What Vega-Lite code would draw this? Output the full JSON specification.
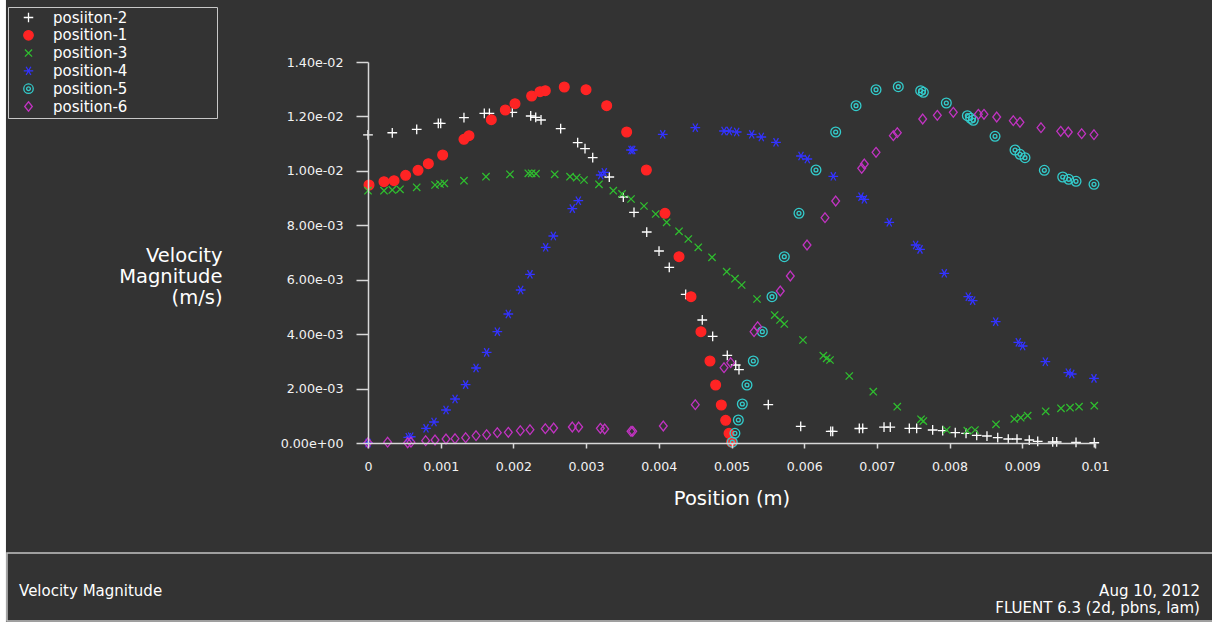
{
  "$schema": "https://vega.github.io/schema/vega-lite/v6.json",
  "width": 727,
  "height": 381,
  "autosize": {"type": "none"},
  "padding": {"left": 368, "top": 62, "right": 117, "bottom": 181},
  "background": "#ffffff",
  "config": {"font": "DejaVu Sans", "view": {"stroke": null}},
  "layer": [
    {
      "data": {"values": [{}]},
      "mark": {"type": "rect", "fill": "#333333"},
      "encoding": {
        "x": {"datum": -0.00498, "type": "quantitative", "scale": {"domain": [0, 0.01], "nice": false, "zero": false}},
        "x2": {"datum": 0.0117},
        "y": {"datum": 0.0165, "type": "quantitative", "scale": {"domain": [0, 0.014], "nice": false, "zero": false}},
        "y2": {"datum": -0.006577}
      }
    },
    {
      "data": {"values": [
        {"s":"posiiton-2","x":0,"y":0.01132},{"s":"posiiton-2","x":0.000334,"y":0.0114},{"s":"posiiton-2","x":0.00067,"y":0.011527},{"s":"posiiton-2","x":0.000967,"y":0.011747},{"s":"posiiton-2","x":0.001,"y":0.011747},{"s":"posiiton-2","x":0.00132,"y":0.011953},{"s":"posiiton-2","x":0.0016,"y":0.012115},{"s":"posiiton-2","x":0.00167,"y":0.012115},{"s":"posiiton-2","x":0.001985,"y":0.012152},{"s":"posiiton-2","x":0.002238,"y":0.012016},{"s":"posiiton-2","x":0.002307,"y":0.011968},{"s":"posiiton-2","x":0.00238,"y":0.011869},{"s":"posiiton-2","x":0.00265,"y":0.011549},{"s":"posiiton-2","x":0.002884,"y":0.011034},{"s":"posiiton-2","x":0.002985,"y":0.010814},{"s":"posiiton-2","x":0.003091,"y":0.010483},{"s":"posiiton-2","x":0.003319,"y":0.009774},{"s":"posiiton-2","x":0.003512,"y":0.009039},{"s":"posiiton-2","x":0.003659,"y":0.008477},{"s":"posiiton-2","x":0.003834,"y":0.007753},{"s":"posiiton-2","x":0.004003,"y":0.007055},{"s":"posiiton-2","x":0.004144,"y":0.006456},{"s":"posiiton-2","x":0.00437,"y":0.005464},{"s":"posiiton-2","x":0.004598,"y":0.00452},{"s":"posiiton-2","x":0.004741,"y":0.003921},{"s":"posiiton-2","x":0.004942,"y":0.003223},{"s":"posiiton-2","x":0.005058,"y":0.002866},{"s":"posiiton-2","x":0.005103,"y":0.002693},{"s":"posiiton-2","x":0.005506,"y":0.001407},{"s":"posiiton-2","x":0.005952,"y":0.000614},{"s":"posiiton-2","x":0.006365,"y":0.00043},{"s":"posiiton-2","x":0.006392,"y":0.00043},{"s":"posiiton-2","x":0.006758,"y":0.000533},{"s":"posiiton-2","x":0.006805,"y":0.00054},{"s":"posiiton-2","x":0.007098,"y":0.000581},{"s":"posiiton-2","x":0.007184,"y":0.000581},{"s":"posiiton-2","x":0.007446,"y":0.00054},{"s":"posiiton-2","x":0.007547,"y":0.00054},{"s":"posiiton-2","x":0.007767,"y":0.000478},{"s":"posiiton-2","x":0.007905,"y":0.000452},{"s":"posiiton-2","x":0.008078,"y":0.000378},{"s":"posiiton-2","x":0.008226,"y":0.000356},{"s":"posiiton-2","x":0.008373,"y":0.000283},{"s":"posiiton-2","x":0.008514,"y":0.000257},{"s":"posiiton-2","x":0.008662,"y":0.000195},{"s":"posiiton-2","x":0.008807,"y":0.000147},{"s":"posiiton-2","x":0.008927,"y":0.000147},{"s":"posiiton-2","x":0.009096,"y":0.00011},{"s":"posiiton-2","x":0.009212,"y":0.000062},{"s":"posiiton-2","x":0.009418,"y":0.000037},{"s":"posiiton-2","x":0.009473,"y":0.000037},{"s":"posiiton-2","x":0.009739,"y":0.000026},{"s":"posiiton-2","x":0.00999,"y":0.00001},
        {"s":"position-1","x":0.000014,"y":0.00948},{"s":"position-1","x":0.00022,"y":0.009602},{"s":"position-1","x":0.000358,"y":0.009638},{"s":"position-1","x":0.000518,"y":0.009837},{"s":"position-1","x":0.000688,"y":0.01002},{"s":"position-1","x":0.00083,"y":0.010263},{"s":"position-1","x":0.001027,"y":0.010583},{"s":"position-1","x":0.00132,"y":0.01116},{"s":"position-1","x":0.001389,"y":0.011292},{"s":"position-1","x":0.001696,"y":0.01188},{"s":"position-1","x":0.001889,"y":0.012236},{"s":"position-1","x":0.002022,"y":0.012468},{"s":"position-1","x":0.002251,"y":0.01275},{"s":"position-1","x":0.002366,"y":0.012909},{"s":"position-1","x":0.002439,"y":0.012946},{"s":"position-1","x":0.0027,"y":0.013081},{"s":"position-1","x":0.002999,"y":0.012982},{"s":"position-1","x":0.003283,"y":0.012394},{"s":"position-1","x":0.003558,"y":0.011428},{"s":"position-1","x":0.003829,"y":0.010031},{"s":"position-1","x":0.004085,"y":0.00844},{"s":"position-1","x":0.004278,"y":0.006846},{"s":"position-1","x":0.004443,"y":0.005376},{"s":"position-1","x":0.00458,"y":0.00409},{"s":"position-1","x":0.004704,"y":0.003013},{"s":"position-1","x":0.004782,"y":0.002131},{"s":"position-1","x":0.00486,"y":0.001396},{"s":"position-1","x":0.00492,"y":0.000834},{"s":"position-1","x":0.004966,"y":0.000356},{"s":"position-1","x":0.005,"y":0.00003},
        {"s":"position-3","x":0,"y":0.00927},{"s":"position-3","x":0.00022,"y":0.00927},{"s":"position-3","x":0.000334,"y":0.009297},{"s":"position-3","x":0.00044,"y":0.009322},{"s":"position-3","x":0.00067,"y":0.009396},{"s":"position-3","x":0.000922,"y":0.00948},{"s":"position-3","x":0.00099,"y":0.009517},{"s":"position-3","x":0.00105,"y":0.009543},{"s":"position-3","x":0.00132,"y":0.009638},{"s":"position-3","x":0.001623,"y":0.009785},{"s":"position-3","x":0.001953,"y":0.009873},{"s":"position-3","x":0.002205,"y":0.00991},{"s":"position-3","x":0.002251,"y":0.00991},{"s":"position-3","x":0.002311,"y":0.009896},{"s":"position-3","x":0.002568,"y":0.009873},{"s":"position-3","x":0.002779,"y":0.009785},{"s":"position-3","x":0.00287,"y":0.009749},{"s":"position-3","x":0.002971,"y":0.009664},{"s":"position-3","x":0.003177,"y":0.009506},{"s":"position-3","x":0.003374,"y":0.00927},{"s":"position-3","x":0.003494,"y":0.00915},{"s":"position-3","x":0.003618,"y":0.008966},{"s":"position-3","x":0.003796,"y":0.008709},{"s":"position-3","x":0.003957,"y":0.008415},{"s":"position-3","x":0.004108,"y":0.00811},{"s":"position-3","x":0.004278,"y":0.007779},{"s":"position-3","x":0.004406,"y":0.007496},{"s":"position-3","x":0.004543,"y":0.007191},{"s":"position-3","x":0.004732,"y":0.006824},{"s":"position-3","x":0.004934,"y":0.006295},{"s":"position-3","x":0.005048,"y":0.006037},{"s":"position-3","x":0.00514,"y":0.005806},{"s":"position-3","x":0.005351,"y":0.005291},{"s":"position-3","x":0.005594,"y":0.004703},{"s":"position-3","x":0.005667,"y":0.00452},{"s":"position-3","x":0.005726,"y":0.004373},{"s":"position-3","x":0.005983,"y":0.003785},{"s":"position-3","x":0.006263,"y":0.003208},{"s":"position-3","x":0.006309,"y":0.003112},{"s":"position-3","x":0.006355,"y":0.00305},{"s":"position-3","x":0.00662,"y":0.002462},{"s":"position-3","x":0.00695,"y":0.001885},{"s":"position-3","x":0.00728,"y":0.001334},{"s":"position-3","x":0.007607,"y":0.000871},{"s":"position-3","x":0.007639,"y":0.000808},{"s":"position-3","x":0.00796,"y":0.000478},{"s":"position-3","x":0.008243,"y":0.000452},{"s":"position-3","x":0.008349,"y":0.000478},{"s":"position-3","x":0.008638,"y":0.000687},{"s":"position-3","x":0.00889,"y":0.000882},{"s":"position-3","x":0.008978,"y":0.00093},{"s":"position-3","x":0.009074,"y":0.001003},{"s":"position-3","x":0.009322,"y":0.001165},{"s":"position-3","x":0.009532,"y":0.001275},{"s":"position-3","x":0.009656,"y":0.001297},{"s":"position-3","x":0.00978,"y":0.001334},{"s":"position-3","x":0.00999,"y":0.001371},
        {"s":"position-4","x":0,"y":0},{"s":"position-4","x":0.000554,"y":0.00021},{"s":"position-4","x":0.000587,"y":0.00023},{"s":"position-4","x":0.000798,"y":0.00054},{"s":"position-4","x":0.000908,"y":0.000772},{"s":"position-4","x":0.001073,"y":0.001213},{"s":"position-4","x":0.001197,"y":0.001617},{"s":"position-4","x":0.001343,"y":0.002143},{"s":"position-4","x":0.001486,"y":0.002756},{"s":"position-4","x":0.001632,"y":0.003332},{"s":"position-4","x":0.001779,"y":0.00409},{"s":"position-4","x":0.00193,"y":0.00474},{"s":"position-4","x":0.0021,"y":0.005622},{"s":"position-4","x":0.002228,"y":0.006199},{"s":"position-4","x":0.002444,"y":0.007191},{"s":"position-4","x":0.002549,"y":0.007606},{"s":"position-4","x":0.00281,"y":0.00861},{"s":"position-4","x":0.002893,"y":0.008903},{"s":"position-4","x":0.003201,"y":0.009848},{"s":"position-4","x":0.00325,"y":0.009947},{"s":"position-4","x":0.003618,"y":0.010766},{"s":"position-4","x":0.003641,"y":0.010766},{"s":"position-4","x":0.004054,"y":0.011343},{"s":"position-4","x":0.004502,"y":0.011586},{"s":"position-4","x":0.004897,"y":0.011464},{"s":"position-4","x":0.00497,"y":0.011464},{"s":"position-4","x":0.005071,"y":0.011428},{"s":"position-4","x":0.005278,"y":0.011343},{"s":"position-4","x":0.00541,"y":0.011244},{"s":"position-4","x":0.005612,"y":0.011049},{"s":"position-4","x":0.005956,"y":0.010546},{"s":"position-4","x":0.006043,"y":0.010436},{"s":"position-4","x":0.0064,"y":0.0098},{"s":"position-4","x":0.006781,"y":0.00905},{"s":"position-4","x":0.006827,"y":0.008955},{"s":"position-4","x":0.00717,"y":0.00811},{"s":"position-4","x":0.007533,"y":0.007276},{"s":"position-4","x":0.007593,"y":0.007117},{"s":"position-4","x":0.007927,"y":0.006236},{"s":"position-4","x":0.008257,"y":0.005376},{"s":"position-4","x":0.008317,"y":0.005229},{"s":"position-4","x":0.008634,"y":0.004457},{"s":"position-4","x":0.008945,"y":0.0037},{"s":"position-4","x":0.009005,"y":0.003564},{"s":"position-4","x":0.009317,"y":0.002987},{"s":"position-4","x":0.009633,"y":0.002583},{"s":"position-4","x":0.00968,"y":0.002535},{"s":"position-4","x":0.009986,"y":0.002377},
        {"s":"position-5","x":0.005011,"y":0.00003},{"s":"position-5","x":0.005047,"y":0.000356},{"s":"position-5","x":0.005094,"y":0.000845},{"s":"position-5","x":0.005149,"y":0.001433},{"s":"position-5","x":0.005213,"y":0.002131},{"s":"position-5","x":0.0053,"y":0.003013},{"s":"position-5","x":0.005424,"y":0.00409},{"s":"position-5","x":0.005557,"y":0.005376},{"s":"position-5","x":0.005726,"y":0.006846},{"s":"position-5","x":0.005928,"y":0.00844},{"s":"position-5","x":0.006162,"y":0.010031},{"s":"position-5","x":0.006433,"y":0.011428},{"s":"position-5","x":0.006713,"y":0.012394},{"s":"position-5","x":0.006988,"y":0.012982},{"s":"position-5","x":0.007294,"y":0.013092},{"s":"position-5","x":0.007602,"y":0.012946},{"s":"position-5","x":0.007639,"y":0.012886},{"s":"position-5","x":0.007955,"y":0.012493},{"s":"position-5","x":0.008244,"y":0.012027},{"s":"position-5","x":0.00829,"y":0.011931},{"s":"position-5","x":0.008326,"y":0.011857},{"s":"position-5","x":0.008625,"y":0.01127},{"s":"position-5","x":0.0089,"y":0.010766},{"s":"position-5","x":0.008968,"y":0.010608},{"s":"position-5","x":0.009037,"y":0.010483},{"s":"position-5","x":0.009303,"y":0.01002},{"s":"position-5","x":0.009556,"y":0.009774},{"s":"position-5","x":0.009638,"y":0.00969},{"s":"position-5","x":0.009739,"y":0.009616},{"s":"position-5","x":0.009986,"y":0.009506},
        {"s":"position-6","x":0,"y":0.00001},{"s":"position-6","x":0.00027,"y":0.00003},{"s":"position-6","x":0.000546,"y":0.00001},{"s":"position-6","x":0.000591,"y":0.00003},{"s":"position-6","x":0.000793,"y":0.000085},{"s":"position-6","x":0.000922,"y":0.00011},{"s":"position-6","x":0.001073,"y":0.000147},{"s":"position-6","x":0.001197,"y":0.000159},{"s":"position-6","x":0.001343,"y":0.000196},{"s":"position-6","x":0.001486,"y":0.000269},{"s":"position-6","x":0.001632,"y":0.000306},{"s":"position-6","x":0.001779,"y":0.000379},{"s":"position-6","x":0.00193,"y":0.000392},{"s":"position-6","x":0.002095,"y":0.000453},{"s":"position-6","x":0.002228,"y":0.000489},{"s":"position-6","x":0.002439,"y":0.000526},{"s":"position-6","x":0.002554,"y":0.000551},{"s":"position-6","x":0.00281,"y":0.000588},{"s":"position-6","x":0.002898,"y":0.000588},{"s":"position-6","x":0.003196,"y":0.00054},{"s":"position-6","x":0.003256,"y":0.000514},{"s":"position-6","x":0.003618,"y":0.00043},{"s":"position-6","x":0.003641,"y":0.00043},{"s":"position-6","x":0.004062,"y":0.000625},{"s":"position-6","x":0.004502,"y":0.001407},{"s":"position-6","x":0.004897,"y":0.002767},{"s":"position-6","x":0.004989,"y":0.002951},{"s":"position-6","x":0.00531,"y":0.00409},{"s":"position-6","x":0.00536,"y":0.004273},{"s":"position-6","x":0.005671,"y":0.005585},{"s":"position-6","x":0.005809,"y":0.006136},{"s":"position-6","x":0.006039,"y":0.007276},{"s":"position-6","x":0.006286,"y":0.008279},{"s":"position-6","x":0.006433,"y":0.008892},{"s":"position-6","x":0.006791,"y":0.010094},{"s":"position-6","x":0.006827,"y":0.010252},{"s":"position-6","x":0.006988,"y":0.010681},{"s":"position-6","x":0.007226,"y":0.011292},{"s":"position-6","x":0.007281,"y":0.011402},{"s":"position-6","x":0.00763,"y":0.011905},{"s":"position-6","x":0.007831,"y":0.012041},{"s":"position-6","x":0.008051,"y":0.012152},{"s":"position-6","x":0.008395,"y":0.012078},{"s":"position-6","x":0.008473,"y":0.012078},{"s":"position-6","x":0.008648,"y":0.011979},{"s":"position-6","x":0.008876,"y":0.011843},{"s":"position-6","x":0.008968,"y":0.011784},{"s":"position-6","x":0.009257,"y":0.011586},{"s":"position-6","x":0.009528,"y":0.011453},{"s":"position-6","x":0.009633,"y":0.011428},{"s":"position-6","x":0.009817,"y":0.011365},{"s":"position-6","x":0.009986,"y":0.011329}
      ]},
      "mark": {"type": "point", "size": 95, "strokeWidth": 1.3, "opacity": 1},
      "encoding": {
        "x": {
          "field": "x", "type": "quantitative",
          "scale": {"domain": [0, 0.01], "nice": false, "zero": false},
          "axis": {
            "title": "Position (m)",
            "values": [0, 0.00025, 0.0005, 0.00075, 0.001, 0.00125, 0.0015, 0.00175, 0.002, 0.00225, 0.0025, 0.00275, 0.003, 0.00325, 0.0035, 0.00375, 0.004, 0.00425, 0.0045, 0.00475, 0.005, 0.00525, 0.0055, 0.00575, 0.006, 0.00625, 0.0065, 0.00675, 0.007, 0.00725, 0.0075, 0.00775, 0.008, 0.00825, 0.0085, 0.00875, 0.009, 0.00925, 0.0095, 0.00975, 0.01],
            "labelExpr": "abs(datum.value*1000-round(datum.value*1000))<0.01 ? format(datum.value,'~g') : ''",
            "grid": false,
            "zindex": 1,
            "domainColor": "#d8d8d8", "domainWidth": 1.5,
            "tickColor": "#d8d8d8", "tickWidth": 1.5,
            "tickSize": {"condition": {"test": "abs(datum.value*1000-round(datum.value*1000))<0.01", "value": 5}, "value": 3},
            "labelColor": "#f2f2f2", "labelFontSize": 12.6, "labelPadding": 12,
            "labelOverlap": false, "labelFlush": false, "labelBound": false,
            "titleColor": "#ffffff", "titleFontSize": 19.5, "titleFontWeight": "normal",
            "titleBaseline": "alphabetic", "titleY": 61
          }
        },
        "y": {
          "field": "y", "type": "quantitative",
          "scale": {"domain": [0, 0.014], "nice": false, "zero": false},
          "axis": {
            "title": ["Velocity", "Magnitude", "(m/s)"],
            "values": [0, 0.001, 0.002, 0.003, 0.004, 0.005, 0.006, 0.007, 0.008, 0.009, 0.01, 0.011, 0.012, 0.013, 0.014],
            "labelExpr": "round(datum.value*1000)%2==0 ? replace(replace(format(datum.value,'.2e'),'e-','e-0'),'e+','e+0') : ''",
            "grid": false,
            "zindex": 1,
            "domainColor": "#d8d8d8", "domainWidth": 1.5,
            "tickColor": "#d8d8d8", "tickWidth": 1.5,
            "tickSize": {"condition": {"test": "round(datum.value*1000)%2==0", "value": 12}, "value": 7},
            "labelColor": "#f2f2f2", "labelFontSize": 12.7, "labelPadding": 13,
            "labelOverlap": false, "labelFlush": false, "labelBound": false,
            "titleColor": "#ffffff", "titleFontSize": 19.5, "titleFontWeight": "normal",
            "titleAngle": 0, "titleAlign": "right", "titleBaseline": "alphabetic",
            "titleX": -146, "titleY": 199, "titleLineHeight": 21
          }
        },
        "shape": {
          "field": "s", "type": "nominal",
          "scale": {
            "domain": ["posiiton-2", "position-1", "position-3", "position-4", "position-5", "position-6"],
            "range": ["M-1,0H1M0,-1V1", "circle", "M-0.75,-0.75L0.75,0.75M-0.75,0.75L0.75,-0.75", "M-1,0H1M-0.5,-0.87L0.5,0.87M0.5,-0.87L-0.5,0.87", "M-1,0A1,1,0,1,0,1,0A1,1,0,1,0,-1,0M-0.4,0A0.4,0.4,0,1,0,0.4,0A0.4,0.4,0,1,0,-0.4,0", "M0,-1L0.8,0L0,1L-0.8,0Z"]
          },
          "legend": {"orient": "none", "legendX": -360, "legendY": -55, "title": null, "strokeColor": "#c8c8c8", "fillColor": "#333333", "padding": 3, "labelFontSize": 15, "labelColor": "#ffffff", "labelLimit": 600, "labelOffset": 17, "symbolOffset": 10, "rowPadding": 1.8, "symbolSize": 90, "symbolStrokeWidth": 1.3, "labelExpr": "datum.label + '\u00a0\u00a0\u00a0\u00a0\u00a0\u00a0\u00a0\u00a0\u00a0\u00a0\u00a0\u00a0\u00a0\u00a0\u00a0\u00a0\u00a0\u00a0\u200b'"}
        },
        "stroke": {
          "field": "s", "type": "nominal",
          "scale": {
            "domain": ["posiiton-2", "position-1", "position-3", "position-4", "position-5", "position-6"],
            "range": ["#ffffff", "#ff2424", "#2fbf2f", "#3333ff", "#33cccc", "#c233c2"]
          },
          "legend": {"orient": "none", "legendX": -360, "legendY": -55, "title": null, "strokeColor": "#c8c8c8", "fillColor": "#333333", "padding": 3, "labelFontSize": 15, "labelColor": "#ffffff", "labelLimit": 600, "labelOffset": 17, "symbolOffset": 10, "rowPadding": 1.8, "symbolSize": 90, "symbolStrokeWidth": 1.3, "labelExpr": "datum.label + '\u00a0\u00a0\u00a0\u00a0\u00a0\u00a0\u00a0\u00a0\u00a0\u00a0\u00a0\u00a0\u00a0\u00a0\u00a0\u00a0\u00a0\u00a0\u200b'"}
        },
        "fill": {
          "field": "s", "type": "nominal",
          "scale": {
            "domain": ["posiiton-2", "position-1", "position-3", "position-4", "position-5", "position-6"],
            "range": ["transparent", "#ff2424", "transparent", "transparent", "transparent", "transparent"]
          },
          "legend": {"orient": "none", "legendX": -360, "legendY": -55, "title": null, "strokeColor": "#c8c8c8", "fillColor": "#333333", "padding": 3, "labelFontSize": 15, "labelColor": "#ffffff", "labelLimit": 600, "labelOffset": 17, "symbolOffset": 10, "rowPadding": 1.8, "symbolSize": 90, "symbolStrokeWidth": 1.3, "labelExpr": "datum.label + '\u00a0\u00a0\u00a0\u00a0\u00a0\u00a0\u00a0\u00a0\u00a0\u00a0\u00a0\u00a0\u00a0\u00a0\u00a0\u00a0\u00a0\u00a0\u200b'"}
        }
      }
    },
    {
      "data": {"values": [{}]},
      "mark": {"type": "rect", "fill": "transparent", "stroke": "#c4c4c4", "strokeWidth": 1.5},
      "encoding": {
        "x": {"datum": -0.004966, "type": "quantitative", "scale": {"domain": [0, 0.01], "nice": false, "zero": false}},
        "x2": {"datum": 0.0117},
        "y": {"datum": -0.004042, "type": "quantitative", "scale": {"domain": [0, 0.014], "nice": false, "zero": false}},
        "y2": {"datum": -0.006541}
      }
    },
    {
      "data": {"values": [{}]},
      "mark": {"type": "text", "align": "left", "baseline": "alphabetic", "fontSize": 15, "color": "#ffffff"},
      "encoding": {
        "x": {"datum": -0.0048, "type": "quantitative", "scale": {"domain": [0, 0.01], "nice": false, "zero": false}},
        "y": {"datum": -0.005622, "type": "quantitative", "scale": {"domain": [0, 0.014], "nice": false, "zero": false}},
        "text": {"value": "Velocity Magnitude"}
      }
    },
    {
      "data": {"values": [{}]},
      "mark": {"type": "text", "align": "right", "baseline": "alphabetic", "fontSize": 15, "color": "#ffffff"},
      "encoding": {
        "x": {"datum": 0.011444, "type": "quantitative", "scale": {"domain": [0, 0.01], "nice": false, "zero": false}},
        "y": {"datum": -0.005622, "type": "quantitative", "scale": {"domain": [0, 0.014], "nice": false, "zero": false}},
        "text": {"value": "Aug 10, 2012"}
      }
    },
    {
      "data": {"values": [{}]},
      "mark": {"type": "text", "align": "right", "baseline": "alphabetic", "fontSize": 15, "color": "#ffffff"},
      "encoding": {
        "x": {"datum": 0.011444, "type": "quantitative", "scale": {"domain": [0, 0.01], "nice": false, "zero": false}},
        "y": {"datum": -0.006247, "type": "quantitative", "scale": {"domain": [0, 0.014], "nice": false, "zero": false}},
        "text": {"value": "FLUENT 6.3 (2d, pbns, lam)"}
      }
    }
  ]
}
